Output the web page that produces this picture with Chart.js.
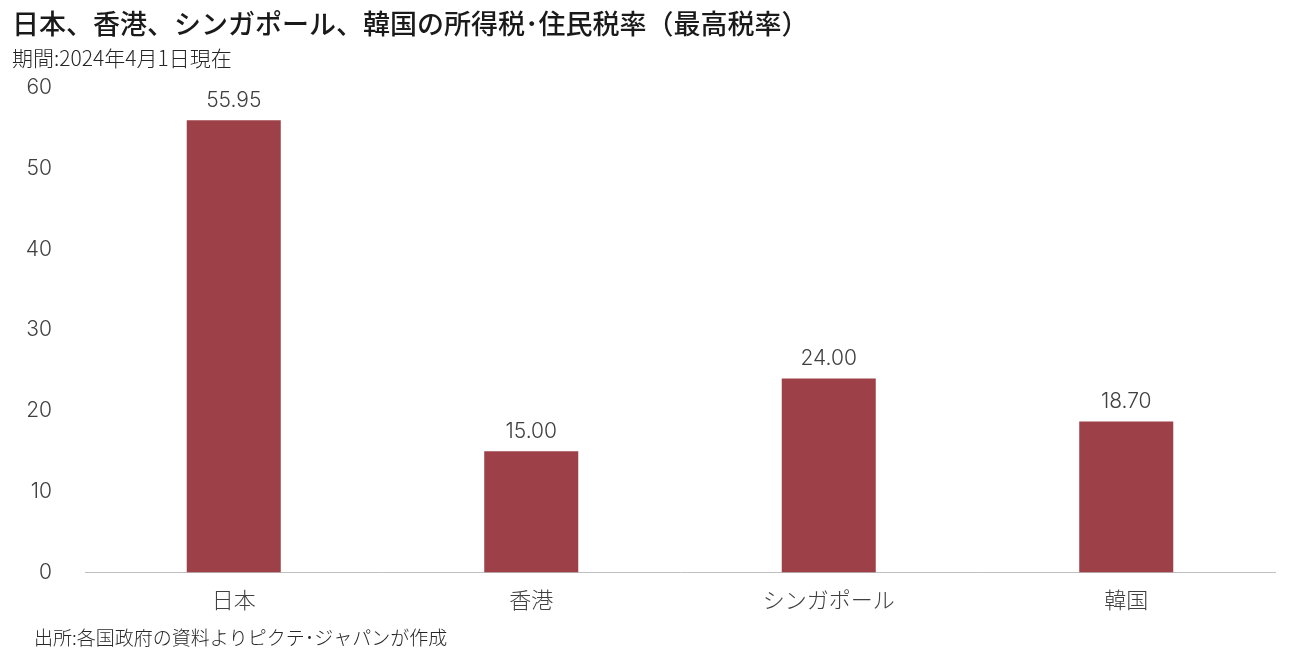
<!DOCTYPE html>
<html lang="ja">
<head>
<meta charset="utf-8">
<title>日本、香港、シンガポール、韓国の所得税・住民税率（最高税率）</title>
<script src="https://cdn.jsdelivr.net/npm/chart.js@4.4.1/dist/chart.umd.min.js"></script>
<style>
    html, body { margin: 0; padding: 0; background: #ffffff; }
    #wrap { width: 1289px; height: 659px; position: relative; }
</style>
</head>
<body>
<div id="wrap"><canvas id="taxChart" width="1289" height="659"></canvas></div>
<script>
(function () {
    'use strict';

    // -----------------------------------------------------------------------
    // Data
    // -----------------------------------------------------------------------
    const CATEGORIES = ['日本', '香港', 'シンガポール', '韓国'];
    const TAX_RATES  = [55.95, 15.00, 24.00, 18.70];
    const Y_TICKS    = [0, 10, 20, 30, 40, 50, 60];

    const TITLE    = '日本、香港、シンガポール、韓国の所得税･住民税率（最高税率）';
    const SUBTITLE = '期間:2024年4月1日現在';
    const SOURCE   = '出所:各国政府の資料よりピクテ･ジャパンが作成';

    const FONT      = '"Noto Sans CJK JP", "Noto Sans", sans-serif';
    const NUM_FONT  = 'Inter, "Noto Sans CJK JP", sans-serif';
    const BAR_COLOR = '#9d4047';
    const TEXT      = '#404040';

    // -----------------------------------------------------------------------
    // Plugins
    // -----------------------------------------------------------------------
    // value labels above each bar
    const valueLabels = {
        id: 'valueLabels',
        afterDatasetsDraw: function (chart) {
            const ctx = chart.ctx;
            const meta = chart.getDatasetMeta(0);
            ctx.save();
            ctx.font = '300 21px ' + NUM_FONT;
            ctx.fillStyle = TEXT;
            ctx.textAlign = 'center';
            ctx.textBaseline = 'bottom';
            meta.data.forEach(function (bar, i) {
                ctx.fillText(TAX_RATES[i].toFixed(2), bar.x, bar.y - 9);
            });
            ctx.restore();
        }
    };

    // source note at the bottom left
    const sourceNote = {
        id: 'sourceNote',
        afterDraw: function (chart) {
            const ctx = chart.ctx;
            ctx.save();
            ctx.font = '300 19px ' + FONT;
            ctx.fillStyle = '#262626';
            ctx.textAlign = 'left';
            ctx.textBaseline = 'middle';
            ctx.fillText(SOURCE, 34, chart.height - 21);
            ctx.restore();
        }
    };

    // -----------------------------------------------------------------------
    // Chart
    // -----------------------------------------------------------------------
    new Chart(document.getElementById('taxChart'), {
        type: 'bar',
        data: {
            labels: CATEGORIES,
            datasets: [{
                data: TAX_RATES,
                backgroundColor: BAR_COLOR,
                borderWidth: 0,
                barPercentage: 0.316,
                categoryPercentage: 1.0
            }]
        },
        options: {
            responsive: false,
            animation: false,
            layout: { padding: { left: 12, right: 14, top: 0, bottom: 32 } },
            plugins: {
                legend: { display: false },
                tooltip: { enabled: false },
                title: {
                    display: true,
                    text: TITLE,
                    align: 'start',
                    color: '#1a1a1a',
                    font: { family: FONT, size: 27, weight: '500' },
                    padding: { top: 8, bottom: 5 }
                },
                subtitle: {
                    display: true,
                    text: SUBTITLE,
                    align: 'start',
                    color: '#262626',
                    font: { family: FONT, size: 21, weight: '300' },
                    padding: { top: 0, bottom: 17 }
                }
            },
            scales: {
                x: {
                    grid: { display: false, drawTicks: false },
                    border: { display: true, color: '#bfbfbf', width: 1 },
                    ticks: {
                        color: TEXT,
                        padding: 14,
                        font: { family: FONT, size: 22, weight: '300' }
                    }
                },
                y: {
                    min: 0,
                    max: 60,
                    afterBuildTicks: function (scale) {
                        scale.ticks = Y_TICKS.map(function (v) { return { value: v }; });
                    },
                    afterFit: function (scale) { scale.width = 73; },
                    grid: { display: false, drawTicks: false },
                    border: { display: false },
                    ticks: {
                        color: TEXT,
                        padding: 33,
                        font: { family: NUM_FONT, size: 21, weight: '300' }
                    }
                }
            }
        },
        plugins: [valueLabels, sourceNote]
    });
})();
</script>
</body>
</html>
